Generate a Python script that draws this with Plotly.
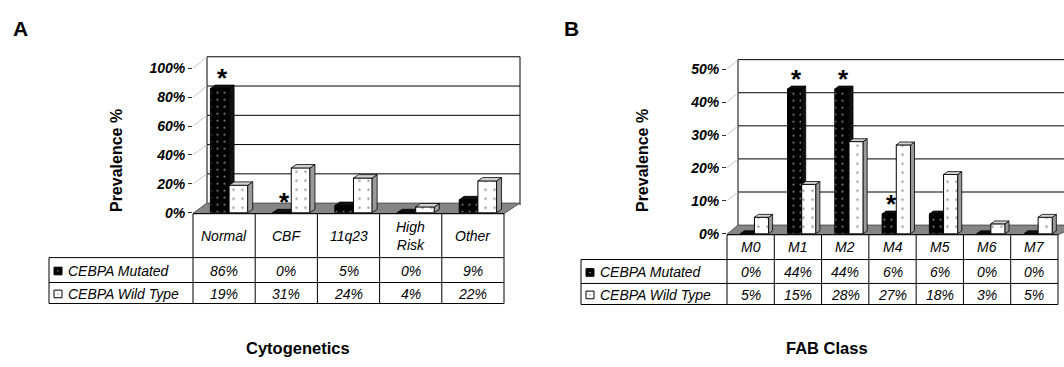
import plotly.graph_objects as go

W, H = 1064, 367
FONT = "Liberation Sans, Arial, sans-serif"

# ---------------- data ----------------
series_names = ["CEBPA Mutated", "CEBPA Wild Type"]

cyto_categories = ["Normal", "CBF", "11q23", "High<br>Risk", "Other"]
cyto_mutated = [86, 0, 5, 0, 9]
cyto_wild = [19, 31, 24, 4, 22]
cyto_star = [True, True, False, False, False]
cyto_ticks = [0, 20, 40, 60, 80, 100]

fab_categories = ["M0", "M1", "M2", "M4", "M5", "M6", "M7"]
fab_mutated = [0, 44, 44, 6, 6, 0, 0]
fab_wild = [5, 15, 28, 27, 18, 3, 5]
fab_star = [False, True, True, True, False, False, False]
fab_ticks = [0, 10, 20, 30, 40, 50]

# ---------------- layout geometry (pixels) ----------------
panelA = dict(letter="A", letter_xy=(20, 21), xa="xaxis", ya="yaxis", xref="x", yref="y",
              fx=(193, 504), fy0=214, fyt=63, ymax=100,
              bx=(207, 520), by0=204, byt=51, show_right=True,
              tab_left=49, tab_y=(215, 261, 287, 309),
              ytitle_xy=(116, 160), xtitle="Cytogenetics", xtitle_xy=(298, 355),
              dx_px=5, dy_px=3.5)
panelB = dict(letter="B", letter_xy=(571, 21), xa="xaxis2", ya="yaxis2", xref="x2", yref="y2",
              fx=(727, 1058), fy0=236, fyt=64, ymax=50,
              bx=(738, 1080), by0=227, byt=54, show_right=False,
              tab_left=581, tab_y=(237, 263, 288, 310),
              ytitle_xy=(642, 160), xtitle="FAB Class", xtitle_xy=(827, 355),
              dx_px=4, dy_px=3)

BAR_W = 0.3
OFF_MUT = -0.22
OFF_WILD = 0.08


def px(x):
    return x / W


def py(y):
    return 1 - y / H


fig = go.Figure()
shapes = []
annotations = []


def line(x0, y0, x1, y1, color="black", width=1, layer="below"):
    shapes.append(dict(type="line", xref="paper", yref="paper",
                       x0=px(x0), y0=py(y0), x1=px(x1), y1=py(y1),
                       line=dict(color=color, width=width), layer=layer))


def text(x, y, s, size=13, xanchor="center", yanchor="middle", angle=0, **kw):
    annotations.append(dict(xref="paper", yref="paper", x=px(x), y=py(y), text=s,
                            showarrow=False, xanchor=xanchor, yanchor=yanchor,
                            textangle=angle, font=dict(family=FONT, size=size, color="black"), **kw))


def build(cfg, cats, mut, wild, stars, ticks):
    n = len(cats)
    fx0, fx1 = cfg["fx"]
    colw = (fx1 - fx0) / n
    ppu = (cfg["fy0"] - cfg["fyt"]) / cfg["ymax"]
    bppu = (cfg["by0"] - cfg["byt"]) / cfg["ymax"]
    dx = cfg["dx_px"] / colw
    dy = cfg["dy_px"] / ppu
    xref, yref = cfg["xref"], cfg["yref"]

    # axes
    fig.update_layout({
        cfg["xa"]: dict(domain=[px(fx0), px(fx1)], range=[-0.5, n - 0.5], visible=False,
                        anchor=yref, fixedrange=True),
        cfg["ya"]: dict(domain=[py(cfg["fy0"]), py(cfg["fyt"])], range=[0, cfg["ymax"]],
                        anchor=xref, tickvals=ticks, ticktext=[f"{t}%" for t in ticks],
                        ticks="outside", ticklen=4, tickcolor="#333", showgrid=False,
                        zeroline=False, showline=False, fixedrange=True,
                        tickfont=dict(family=FONT, size=14, color="black", style="italic", weight="bold")),
    })

    # back wall
    bx0, bx1 = cfg["bx"]
    for t in ticks[1:]:
        yb = cfg["by0"] - t * bppu
        line(bx0, yb, bx1, yb)
    line(bx0, cfg["byt"], bx0, cfg["by0"])
    if cfg["show_right"]:
        line(bx1, cfg["byt"], bx1, cfg["by0"] + 2)
    # left wall diagonals
    for t in ticks:
        line(fx0, cfg["fy0"] - t * ppu, bx0, cfg["by0"] - t * bppu, color="#c8c8c8")
    # floor
    fy = cfg["tab_y"][0]
    path = (f"M {px(fx0)},{py(fy)} L {px(fx1)},{py(fy)} L {px(bx1)},{py(cfg['by0'])} "
            f"L {px(bx0)},{py(cfg['by0'])} Z")
    shapes.append(dict(type="path", xref="paper", yref="paper", path=path,
                       fillcolor="#858585", line=dict(color="#555", width=1), layer="below"))

    # bars (front faces)
    xs = list(range(n))
    fig.add_trace(go.Bar(x=xs, y=mut, name=series_names[0], offset=OFF_MUT, width=BAR_W,
                         xaxis=xref, yaxis=yref, showlegend=False,
                         marker=dict(color="black", line=dict(color="black", width=1),
                                     pattern=dict(shape=".", fgcolor="white", bgcolor="black",
                                                  size=7, solidity=0.08))))
    fig.add_trace(go.Bar(x=xs, y=wild, name=series_names[1], offset=OFF_WILD, width=BAR_W,
                         xaxis=xref, yaxis=yref, showlegend=False,
                         marker=dict(color="white", line=dict(color="black", width=1),
                                     pattern=dict(shape=".", fgcolor="#444", bgcolor="white",
                                                  size=9, solidity=0.06))))

    # 3D faces
    def faces(vals, off, top_col, side_col, layer):
        for i, v in enumerate(vals):
            x0 = i + off
            x1 = x0 + BAR_W
            top = f"M {x0},{v} L {x0 + dx},{v + dy} L {x1 + dx},{v + dy} L {x1},{v} Z"
            side = f"M {x1},0 L {x1},{v} L {x1 + dx},{v + dy} L {x1 + dx},{dy} Z"
            for p, c in ((side, side_col), (top, top_col)):
                shapes.append(dict(type="path", xref=xref, yref=yref, path=p, fillcolor=c,
                                   line=dict(color="black", width=0.8), layer=layer))

    faces(mut, OFF_MUT, "#111111", "#111111", "between")
    faces(wild, OFF_WILD, "#d4d4d4", "#9a9a9a", "above")

    # stars
    for i, (s, v) in enumerate(zip(stars, mut)):
        if s:
            annotations.append(dict(xref=xref, yref=yref, x=i + OFF_MUT + BAR_W / 2 + dx / 2,
                                    y=v + dy, text="<b>*</b>", showarrow=False,
                                    yanchor="middle", yshift=7,
                                    font=dict(family=FONT, size=26, color="black")))

    # table
    t0, t1, t2, t3 = cfg["tab_y"]
    left = cfg["tab_left"]
    line(fx0, t0, fx1, t0, layer="above")
    for yy in (t1, t2, t3):
        line(left, yy, fx1, yy, layer="above")
    for k in range(n + 1):
        xk = fx0 + k * colw
        line(xk, t0, xk, t3, layer="above")
    line(left, t1, left, t3, layer="above")
    for k, c in enumerate(cats):
        xc = fx0 + (k + 0.5) * colw
        text(xc, (t0 + t1) / 2, f"<i>{c}</i>", size=14)
        text(xc, (t1 + t2) / 2 + 1, f"<i>{mut[k]}%</i>", size=14)
        text(xc, (t2 + t3) / 2 + 1, f"<i>{wild[k]}%</i>", size=14)
    # legend rows
    for r, (ya_, yb_) in enumerate(((t1, t2), (t2, t3))):
        yc = (ya_ + yb_) / 2 + 1
        ix = left + 5
        fill = "black" if r == 0 else "white"
        dot = "white" if r == 0 else "#444"
        shapes.append(dict(type="rect", xref="paper", yref="paper",
                           x0=px(ix), x1=px(ix + 8), y0=py(yc + 4), y1=py(yc - 4),
                           fillcolor=fill, line=dict(color="black", width=1), layer="above"))
        shapes.append(dict(type="rect", xref="paper", yref="paper",
                           x0=px(ix + 3.5), x1=px(ix + 4.5), y0=py(yc + 0.5), y1=py(yc - 0.5),
                           fillcolor=dot, line=dict(width=0), layer="above"))
        text(ix + 12, yc, f"<i>{series_names[r]}</i>", size=14, xanchor="left")

    # titles
    text(*cfg["letter_xy"], f"<b>{cfg['letter']}</b>", size=21)
    text(*cfg["ytitle_xy"], "<b>Prevalence %</b>", size=16, angle=-90)
    text(*cfg["xtitle_xy"], f"<b>{cfg['xtitle']}</b>", size=16.5)


build(panelA, cyto_categories, cyto_mutated, cyto_wild, cyto_star, cyto_ticks)
build(panelB, fab_categories, fab_mutated, fab_wild, fab_star, fab_ticks)

fig.update_layout(width=W, height=H, margin=dict(l=0, r=0, t=0, b=0),
                  paper_bgcolor="white", plot_bgcolor="rgba(0,0,0,0)",
                  barmode="overlay", showlegend=False,
                  shapes=shapes, annotations=annotations,
                  font=dict(family=FONT, color="black"))

fig.write_html("out.html", config={"displayModeBar": False},
               post_script="document.body.style.margin='0';document.body.style.overflow='hidden';")
